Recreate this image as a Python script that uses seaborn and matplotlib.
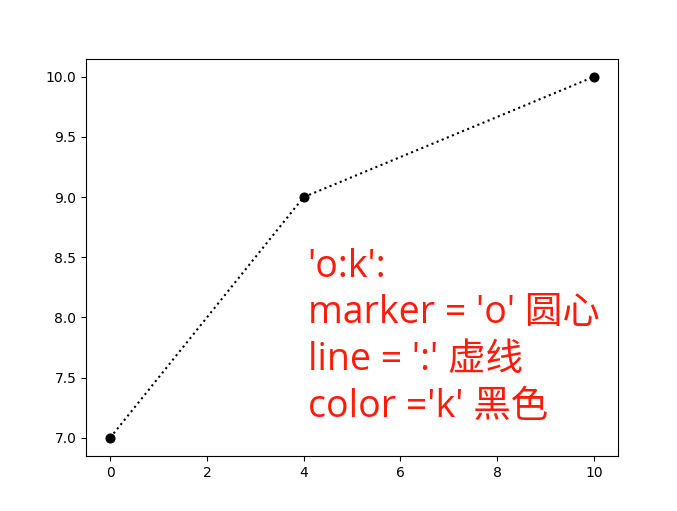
import numpy as np
import pandas as pd
import seaborn as sns
import matplotlib.pyplot as plt

plt.rcParams['font.family'] = ['DejaVu Sans']

x = [0, 4, 10]
y = [7, 9, 10]
note = "'o:k':\nmarker = 'o' 圆心\nline = ':' 虚线\ncolor ='k' 黑色"

df = pd.DataFrame({"x": x, "y": y})

fig = plt.figure(figsize=(6.77, 5.11), dpi=100)
ax = fig.add_axes([0.127, 0.108, 0.786, 0.777])

sns.lineplot(data=df, x="x", y="y", marker="o", linestyle=":", color="k",
             markeredgecolor="k", markersize=6.5, linewidth=1.5, ax=ax)

ax.set_xlabel("")
ax.set_ylabel("")
ax.set_xticks([0, 2, 4, 6, 8, 10])
ax.set_yticks(np.arange(7.0, 10.01, 0.5))

ax.text(4.08, 8.58, note, color="#ff1a0a", fontsize=27, va="top", ha="left",
        linespacing=1.3, family=['Open Sans', 'Noto Sans CJK SC'])

fig.savefig("out.png", dpi=100)
